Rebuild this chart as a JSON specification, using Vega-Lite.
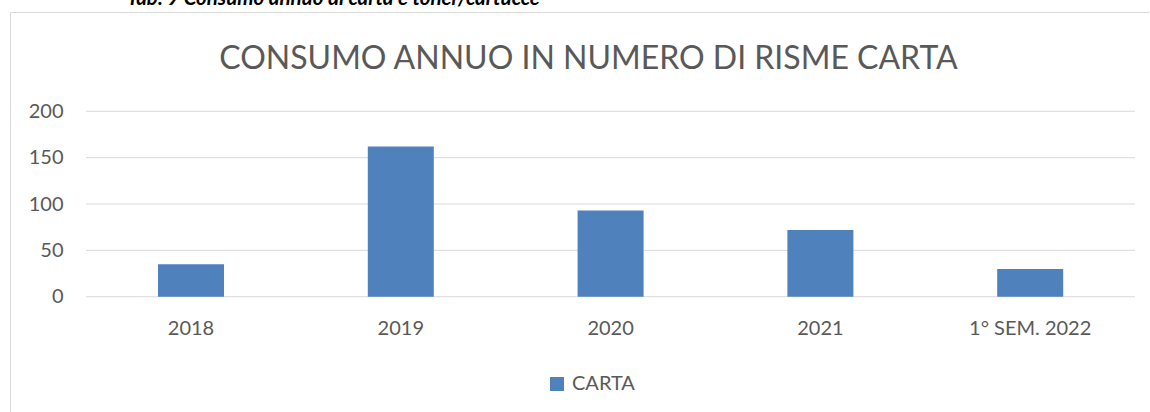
{
  "$schema": "https://vega.github.io/schema/vega-lite/v6.json",
  "width": 1139,
  "height": 402,
  "autosize": {"type": "none"},
  "padding": {"left": 10, "top": 12, "right": 0, "bottom": 0},
  "background": "white",
  "config": {
    "view": {"stroke": "#d9d9d9", "strokeWidth": 1},
    "font": "Lato"
  },
  "title": {
    "text": "Tab. 9 Consumo annuo di carta e toner/cartucce",
    "anchor": "start",
    "frame": "group",
    "dx": 117,
    "dy": 13,
    "offset": 0,
    "baseline": "alphabetic",
    "font": "Lato",
    "fontSize": 20.5,
    "fontWeight": "bold",
    "fontStyle": "italic",
    "color": "#000000"
  },
  "data": {
    "values": [
      {"anno": "2018", "risme": 35},
      {"anno": "2019", "risme": 162},
      {"anno": "2020", "risme": 93},
      {"anno": "2021", "risme": 72},
      {"anno": "1° SEM. 2022", "risme": 30}
    ]
  },
  "layer": [
    {
      "data": {"values": [{"v": 0}, {"v": 50}, {"v": 100}, {"v": 150}, {"v": 200}]},
      "mark": {"type": "rule", "color": "#d9d9d9", "strokeWidth": 1},
      "encoding": {
        "y": {
          "field": "v",
          "type": "quantitative",
          "scale": {"domain": [-126.5, 307.1], "nice": false, "zero": false},
          "axis": {
            "orient": "left",
            "title": null,
            "values": [0, 50, 100, 150, 200],
            "offset": -53,
            "labelPadding": 0,
            "ticks": false,
            "domain": false,
            "grid": false,
            "labelFont": "Lato",
            "labelFontSize": 20,
            "labelColor": "#595959"
          }
        },
        "x": {
          "datum": 0,
          "type": "quantitative",
          "scale": {"domain": [-0.07245, 1.01334], "nice": false, "zero": false},
          "axis": {
            "orient": "top",
            "labels": false,
            "ticks": false,
            "domain": false,
            "grid": false,
            "title": "CONSUMO ANNUO IN NUMERO DI RISME CARTA",
            "titleFont": "Lato",
            "titleFontSize": 32,
            "titleFontWeight": "normal",
            "titleColor": "#595959",
            "titleBaseline": "alphabetic",
            "titleAlign": "center",
            "titleAnchor": "middle",
            "titleX": 578,
            "titleY": 56
          }
        },
        "x2": {"datum": 1}
      }
    },
    {
      "mark": {"type": "bar"},
      "encoding": {
        "x": {
          "field": "anno",
          "type": "nominal",
          "sort": null,
          "scale": {"paddingInner": 0.6854, "paddingOuter": 0.5572, "align": 0.633},
          "axis": {
            "orient": "bottom",
            "offset": -117.3,
            "labelPadding": 22,
            "ticks": false,
            "domain": false,
            "grid": false,
            "title": null,
            "labelAngle": 0,
            "labelFont": "Lato",
            "labelFontSize": 20,
            "labelColor": "#595959"
          }
        },
        "y": {
          "field": "risme",
          "type": "quantitative",
          "axis": {
            "orient": "left",
            "title": null,
            "values": [0, 50, 100, 150, 200],
            "offset": -53,
            "labelPadding": 0,
            "ticks": false,
            "domain": false,
            "grid": false,
            "labelFont": "Lato",
            "labelFontSize": 20,
            "labelColor": "#595959"
          }
        },
        "y2": {"datum": 0},
        "color": {
          "datum": "CARTA",
          "scale": {"range": ["#4F81BD"]},
          "legend": {
            "orient": "none",
            "legendX": 537,
            "legendY": 362,
            "title": null,
            "symbolType": "square",
            "symbolSize": 196,
            "symbolStrokeWidth": 0,
            "labelFont": "Lato",
            "labelFontSize": 20,
            "labelColor": "#595959",
            "labelOffset": 5,
            "padding": 0
          }
        }
      }
    }
  ],
  "resolve": {"scale": {"x": "independent"}}
}
